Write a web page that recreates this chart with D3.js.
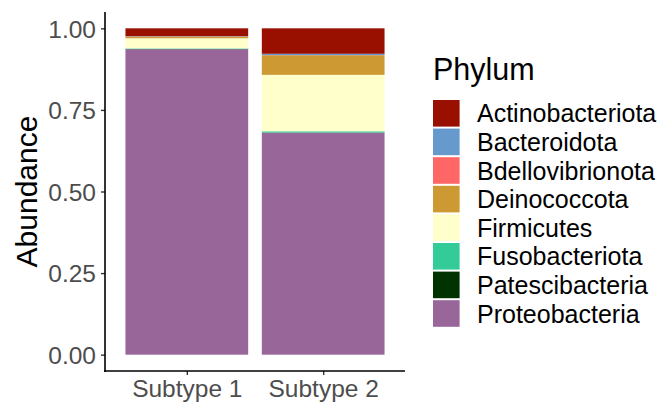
<!DOCTYPE html>
<html>
<head>
<meta charset="utf-8">
<script src="https://cdn.jsdelivr.net/npm/d3@7"></script>
<style>
  html, body { margin: 0; padding: 0; background: #fff; }
  svg { display: block; font-family: Arial, "Liberation Sans", sans-serif; }
</style>
</head>
<body>
<svg id="chart" width="659" height="402"></svg>
<script>
// Relative abundance of bacterial phyla per subtype
const samples = ["Subtype 1", "Subtype 2"];
const phyla = ["Actinobacteriota", "Bacteroidota", "Bdellovibrionota", "Deinococcota",
               "Firmicutes", "Fusobacteriota", "Patescibacteria", "Proteobacteria"];
const subtype1 = [0.024, 0.001, 0.0005, 0.005, 0.031, 0.002, 0.0005, 0.936];
const subtype2 = [0.078, 0.004, 0.0005, 0.060, 0.173, 0.004, 0.0005, 0.680];
const phylumColors = ["#991000", "#6699CC", "#FF6666", "#CC9933",
                      "#FFFFCC", "#33CC99", "#003300", "#996699"];
const yTicks = [0, 0.25, 0.5, 0.75, 1];
const yTickLabels = ["0.00", "0.25", "0.50", "0.75", "1.00"];

const svg = d3.select("#chart");
const panel = { left: 105, right: 405, top: 12, bottom: 371 };

// Discrete x: 0.6-unit expansion on both sides, bars 0.9 units wide
const unit = (panel.right - panel.left) / (samples.length - 1 + 1.2);
const x = d3.scalePoint()
  .domain(samples)
  .range([panel.left + 0.6 * unit, panel.right - 0.6 * unit]);
const barW = 0.9 * unit;

const y = d3.scaleLinear().domain([-0.05, 1.05]).range([panel.bottom, panel.top]);
const color = d3.scaleOrdinal().domain(phyla).range(phylumColors);

// Stack: first phylum on top, last at the bottom
const table = samples.map((s, i) => {
  const row = { sample: s };
  const vals = i === 0 ? subtype1 : subtype2;
  phyla.forEach((p, j) => row[p] = vals[j]);
  return row;
});
const series = d3.stack().keys(phyla.slice().reverse())(table);

svg.append("g").selectAll("g")
  .data(series)
  .join("g")
  .attr("fill", d => color(d.key))
  .selectAll("rect")
  .data(d => d)
  .join("rect")
  .attr("x", d => x(d.data.sample) - barW / 2)
  .attr("width", barW)
  .attr("y", d => y(d[1]))
  .attr("height", d => Math.max(0, y(d[0]) - y(d[1])));

// Y axis
const yAxis = svg.append("g")
  .attr("transform", `translate(${panel.left},0)`)
  .call(d3.axisLeft(y).tickValues(yTicks).tickFormat((d, i) => yTickLabels[i])
        .tickSize(4).tickPadding(5).tickSizeOuter(0));
yAxis.select(".domain").remove();
yAxis.append("line")
  .attr("x1", 0).attr("x2", 0).attr("y1", panel.top).attr("y2", panel.bottom + 1)
  .attr("stroke", "#000").attr("stroke-width", 1.6);
yAxis.selectAll(".tick line").attr("stroke", "#333").attr("stroke-width", 1.4);
yAxis.selectAll(".tick text").attr("fill", "#4D4D4D").attr("font-size", 24.5)
  .attr("dy", "0.36em");

// X axis
const xAxis = svg.append("g")
  .attr("transform", `translate(0,${panel.bottom})`)
  .call(d3.axisBottom(x).tickSize(4).tickPadding(4).tickSizeOuter(0));
xAxis.select(".domain").remove();
xAxis.append("line")
  .attr("x1", panel.left - 1).attr("x2", panel.right).attr("y1", 0).attr("y2", 0)
  .attr("stroke", "#000").attr("stroke-width", 1.6);
xAxis.selectAll(".tick line").attr("stroke", "#333").attr("stroke-width", 1.4);
xAxis.selectAll(".tick text").attr("fill", "#4D4D4D").attr("font-size", 24.5)
  .attr("dy", "0.72em");

// Y title
svg.append("text")
  .attr("transform", `translate(37,${(panel.top + panel.bottom) / 2}) rotate(-90)`)
  .attr("text-anchor", "middle")
  .attr("font-size", 30)
  .attr("fill", "#000")
  .text("Abundance");

// Legend
const legend = svg.append("g").attr("transform", "translate(433,0)");
legend.append("text")
  .attr("x", 0).attr("y", 80)
  .attr("font-size", 30.5)
  .attr("fill", "#000")
  .text("Phylum");
const rowH = 28.6;
const keys = legend.selectAll("g.key")
  .data(phyla)
  .join("g")
  .attr("class", "key")
  .attr("transform", (d, i) => `translate(0,${113.3 + i * rowH})`);
keys.append("rect")
  .attr("x", 0).attr("y", -13.3)
  .attr("width", 26.6).attr("height", 26.6)
  .attr("fill", d => color(d));
keys.append("text")
  .attr("x", 44).attr("y", 0).attr("dy", "0.36em")
  .attr("font-size", 25)
  .attr("fill", "#000")
  .text(d => d);
</script>
</body>
</html>
